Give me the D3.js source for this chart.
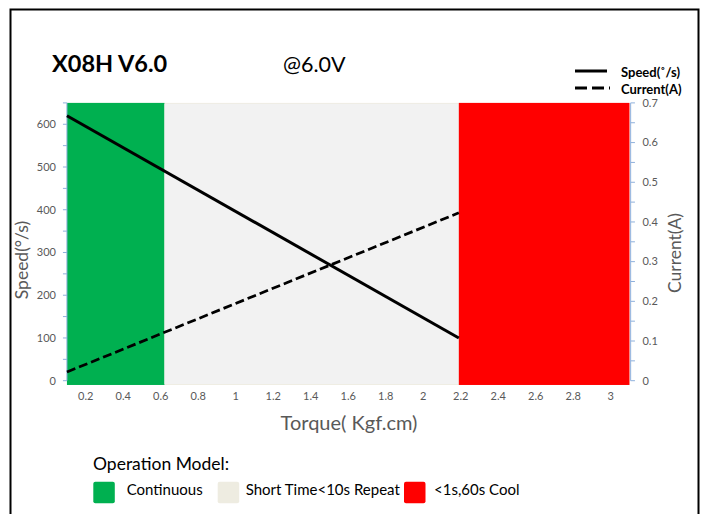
<!DOCTYPE html>
<html><head><meta charset="utf-8">
<script src="https://cdn.jsdelivr.net/npm/d3@7/dist/d3.min.js"></script>
<style>body{margin:0;background:#fff;} text{font-family:Lato,"Open Sans",sans-serif;}</style>
</head><body><svg id="c" width="704" height="514"></svg>
<script>
// ---- data ----
const torque = [0.1, 2.19];
const speed = [620, 100];
const current = [0.022, 0.423];
const xTicks = [0.2,0.4,0.6,0.8,1,1.2,1.4,1.6,1.8,2,2.2,2.4,2.6,2.8,3];
const speedTicks = [0,100,200,300,400,500,600];
const currentTicks = [0,0.1,0.2,0.3,0.4,0.5,0.6,0.7];
const zones = [
  {name:"Continuous", from:0.1, to:0.62, color:"#00b050", swatch:"#00b050"},
  {name:"Short Time<10s Repeat", from:0.62, to:2.19, color:"#f2f2f2", swatch:"#eeece1"},
  {name:"<1s,60s Cool", from:2.19, to:3.1, color:"#ff0000", swatch:"#ff0000"}
];

const svg = d3.select("#c");
const x = d3.scaleLinear().domain([0.1,3.1]).range([66.95,629.45]);
const yL = d3.scaleLinear().domain([0,650]).range([380.7,102.9]);
const yR = d3.scaleLinear().domain([0,0.7]).range([380.7,102.9]);
const gray = "#595959", axisCol = "#8eb0dc";

// frame
svg.append("rect").attr("x",10.5).attr("y",9.5).attr("width",688).attr("height",520)
  .attr("fill","none").attr("stroke","#000").attr("stroke-width",2);

// titles
svg.append("text").attr("x",52).attr("y",72).attr("font-size",23.5).attr("font-weight","bold").attr("fill","#000").text("X08H V6.0");
svg.append("text").attr("x",283).attr("y",72).attr("font-size",21.5).attr("fill","#000").text("@6.0V");

// plot background & zones
svg.append("rect").attr("x",x(0.1)).attr("y",yL(650)).attr("width",x(3.1)-x(0.1)).attr("height",yL(-10)-yL(650)).attr("fill","#eeece1");
svg.selectAll("rect.zone").data(zones).join("rect").attr("class","zone")
  .attr("x",d=>x(d.from)).attr("width",d=>x(d.to)-x(d.from))
  .attr("y",d=>d.color==="#f2f2f2"?yL(648):yL(650))
  .attr("height",d=>d.color==="#f2f2f2"?yL(-8)-yL(648):yL(-10)-yL(650))
  .attr("fill",d=>d.color);

// axes
const axL = svg.append("g");
axL.append("line").attr("x1",x(0.1)).attr("x2",x(0.1)).attr("y1",yL(0)).attr("y2",yL(650)).attr("stroke",axisCol);
axL.selectAll("line.t").data(d3.range(0,651,50)).join("line").attr("class","t")
  .attr("x1",x(0.1)-4).attr("x2",x(0.1)).attr("y1",d=>yL(d)).attr("y2",d=>yL(d)).attr("stroke",axisCol);
axL.selectAll("text").data(speedTicks).join("text").attr("x",x(0.1)-11).attr("y",d=>yL(d)).attr("dy","0.35em")
  .attr("text-anchor","end").attr("font-size",11).attr("fill",gray).text(d=>d);

const axR = svg.append("g");
axR.append("line").attr("x1",x(3.1)+1.2).attr("x2",x(3.1)+1.2).attr("y1",yR(0)).attr("y2",yR(0.7)).attr("stroke",axisCol);
axR.selectAll("line.t").data(d3.range(0,0.7001,0.05)).join("line").attr("class","t")
  .attr("x1",x(3.1)+1.2).attr("x2",x(3.1)+5.5).attr("y1",d=>yR(d)).attr("y2",d=>yR(d)).attr("stroke",axisCol);
axR.selectAll("text").data(currentTicks).join("text").attr("x",x(3.1)+13).attr("y",d=>yR(d)).attr("dy","0.35em")
  .attr("font-size",11).attr("fill",gray).text(d=>d);

svg.append("g").selectAll("text").data(xTicks).join("text").attr("x",d=>x(d)).attr("y",396).attr("dy","0.35em")
  .attr("text-anchor","middle").attr("font-size",11).attr("fill",gray).text(d=>d);

// axis titles
svg.append("text").attr("x",349).attr("y",430).attr("text-anchor","middle").attr("font-size",20).attr("fill",gray).text("Torque( Kgf.cm)");
svg.append("text").attr("transform","translate(28,260) rotate(-90)").attr("text-anchor","middle").attr("font-size",17.5).attr("fill",gray).text("Speed(°/s)");
svg.append("text").attr("transform","translate(681,253) rotate(-90)").attr("text-anchor","middle").attr("font-size",17.5).attr("fill",gray).text("Current(A)");

// lines
const sp = torque.map((t,i)=>[t,speed[i]]), cu = torque.map((t,i)=>[t,current[i]]);
svg.append("path").datum(sp).attr("d",d3.line().x(d=>x(d[0])).y(d=>yL(d[1])))
  .attr("fill","none").attr("stroke","#000").attr("stroke-width",3);
svg.append("path").datum(cu).attr("d",d3.line().x(d=>x(d[0])).y(d=>yR(d[1])))
  .attr("fill","none").attr("stroke","#000").attr("stroke-width",2.75).attr("stroke-dasharray","9,4");

// top-right legend
const lg = svg.append("g");
lg.append("line").attr("x1",575).attr("x2",607).attr("y1",71).attr("y2",71).attr("stroke","#000").attr("stroke-width",3);
lg.append("line").attr("x1",575).attr("x2",610).attr("y1",88).attr("y2",88).attr("stroke","#000").attr("stroke-width",3).attr("stroke-dasharray","12,5");
lg.append("text").attr("x",621).attr("y",77).attr("font-size",13).attr("font-weight","bold").attr("fill","#000").text("Speed(˚/s)");
lg.append("text").attr("x",621).attr("y",93.5).attr("font-size",13).attr("font-weight","bold").attr("fill","#000").text("Current(A)");

// bottom legend
svg.append("text").attr("x",93).attr("y",470).attr("font-size",17.5).attr("fill","#000").text("Operation Model:");
const sw = [93.3, 217.7, 404], tx = [126.7, 245.7, 434];
const bl = svg.append("g").selectAll("g").data(zones).join("g");
bl.append("rect").attr("x",(d,i)=>sw[i]).attr("y",481.7).attr("width",21.5).attr("height",21.5).attr("rx",2).attr("fill",d=>d.swatch);
bl.append("text").attr("x",(d,i)=>tx[i]).attr("y",494.5).attr("font-size",15).attr("fill","#000").text(d=>d.name);
</script></body></html>
